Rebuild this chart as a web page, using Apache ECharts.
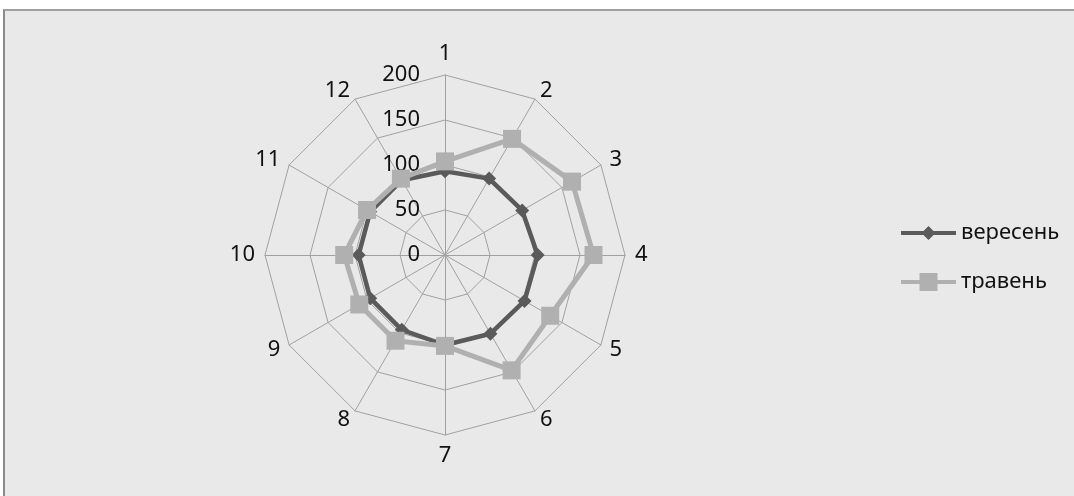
<!DOCTYPE html>
<html>
<head>
<meta charset="utf-8">
<script src="https://cdn.jsdelivr.net/npm/echarts@6/dist/echarts.min.js"></script>
<style>
  html, body { margin: 0; padding: 0; background: #ffffff; width: 1074px; height: 496px; overflow: hidden; }
  #frame { position: absolute; left: 3px; top: 9px; width: 1100px; height: 520px;
           background: #e9e9e9; border-left: 2px solid #8a8a8a; border-top: 2px solid #a0a0a0; }
  #chart { position: absolute; left: 0; top: 0; width: 1074px; height: 496px; }
</style>
</head>
<body>
<div id="frame"></div>
<div id="chart"></div>
<script>
// Categories (clockwise from top) and values
const categories = ['1', '2', '3', '4', '5', '6', '7', '8', '9', '10', '11', '12'];
const seriesNames = ['вересень', 'травень'];
const veresen = [93, 98, 99, 103, 102, 101, 100, 96, 96, 96, 96, 96];
const traven  = [104, 149, 163, 165, 135, 148, 101, 110, 110, 112, 100, 98];
const axisMax = 200;
const axisTicks = [0, 50, 100, 150, 200];

// ECharts radar runs counter-clockwise, so reorder to get a clockwise layout
const order = [0].concat(categories.map((_, i) => i).slice(1).reverse());
const reorder = arr => order.map(i => arr[i]);

const FONT = 'Noto Sans';
const chart = echarts.init(document.getElementById('chart'), null, { renderer: 'canvas' });

const indicator = reorder(categories).map((c, k) => {
  const ind = { name: c, min: 0, max: axisMax };
  if (k === 0) {
    ind.axisLabel = { show: true, margin: 25, color: '#111111', fontSize: 22, fontFamily: FONT, showMinLabel: true };
  }
  return ind;
});

chart.setOption({
  backgroundColor: 'transparent',
  animation: false,
  legend: {
    orient: 'vertical',
    left: 896,
    top: 217,
    itemWidth: 55,
    itemHeight: 18,
    itemGap: 27,
    textStyle: { fontSize: 22, fontFamily: FONT, color: '#111111' },
    data: [
      { name: seriesNames[0], icon: 'path://M0,7H55V11H0Z M27.5,2L34.5,9L27.5,16L20.5,9Z', itemStyle: { color: '#5a5a5a' } },
      { name: seriesNames[1], icon: 'path://M0,7H55V11H0Z M18.5,0H36.5V18H18.5Z', itemStyle: { color: '#b0b0b0' } }
    ]
  },
  radar: {
    center: [445, 255],
    radius: 180,
    startAngle: 90,
    shape: 'polygon',
    splitNumber: 4,
    indicator: indicator,
    axisName: { color: '#111111', fontSize: 22, fontFamily: FONT },
    nameGap: 10,
    axisLine: { show: true, lineStyle: { color: '#a0a0a0', width: 1 } },
    splitLine: { show: true, lineStyle: { color: '#a0a0a0', width: 1 } },
    splitArea: { show: false },
    axisTick: { show: false },
    axisLabel: { show: false }
  },
  series: [{
    type: 'radar',
    data: [
      {
        name: seriesNames[0], value: reorder(veresen),
        symbol: 'diamond', symbolSize: 14,
        lineStyle: { color: '#5a5a5a', width: 4.5 },
        itemStyle: { color: '#5a5a5a' }
      },
      {
        name: seriesNames[1], value: reorder(traven),
        symbol: 'rect', symbolSize: 18,
        lineStyle: { color: '#b0b0b0', width: 5 },
        itemStyle: { color: '#b0b0b0' }
      }
    ]
  }]
});
</script>
</body>
</html>
